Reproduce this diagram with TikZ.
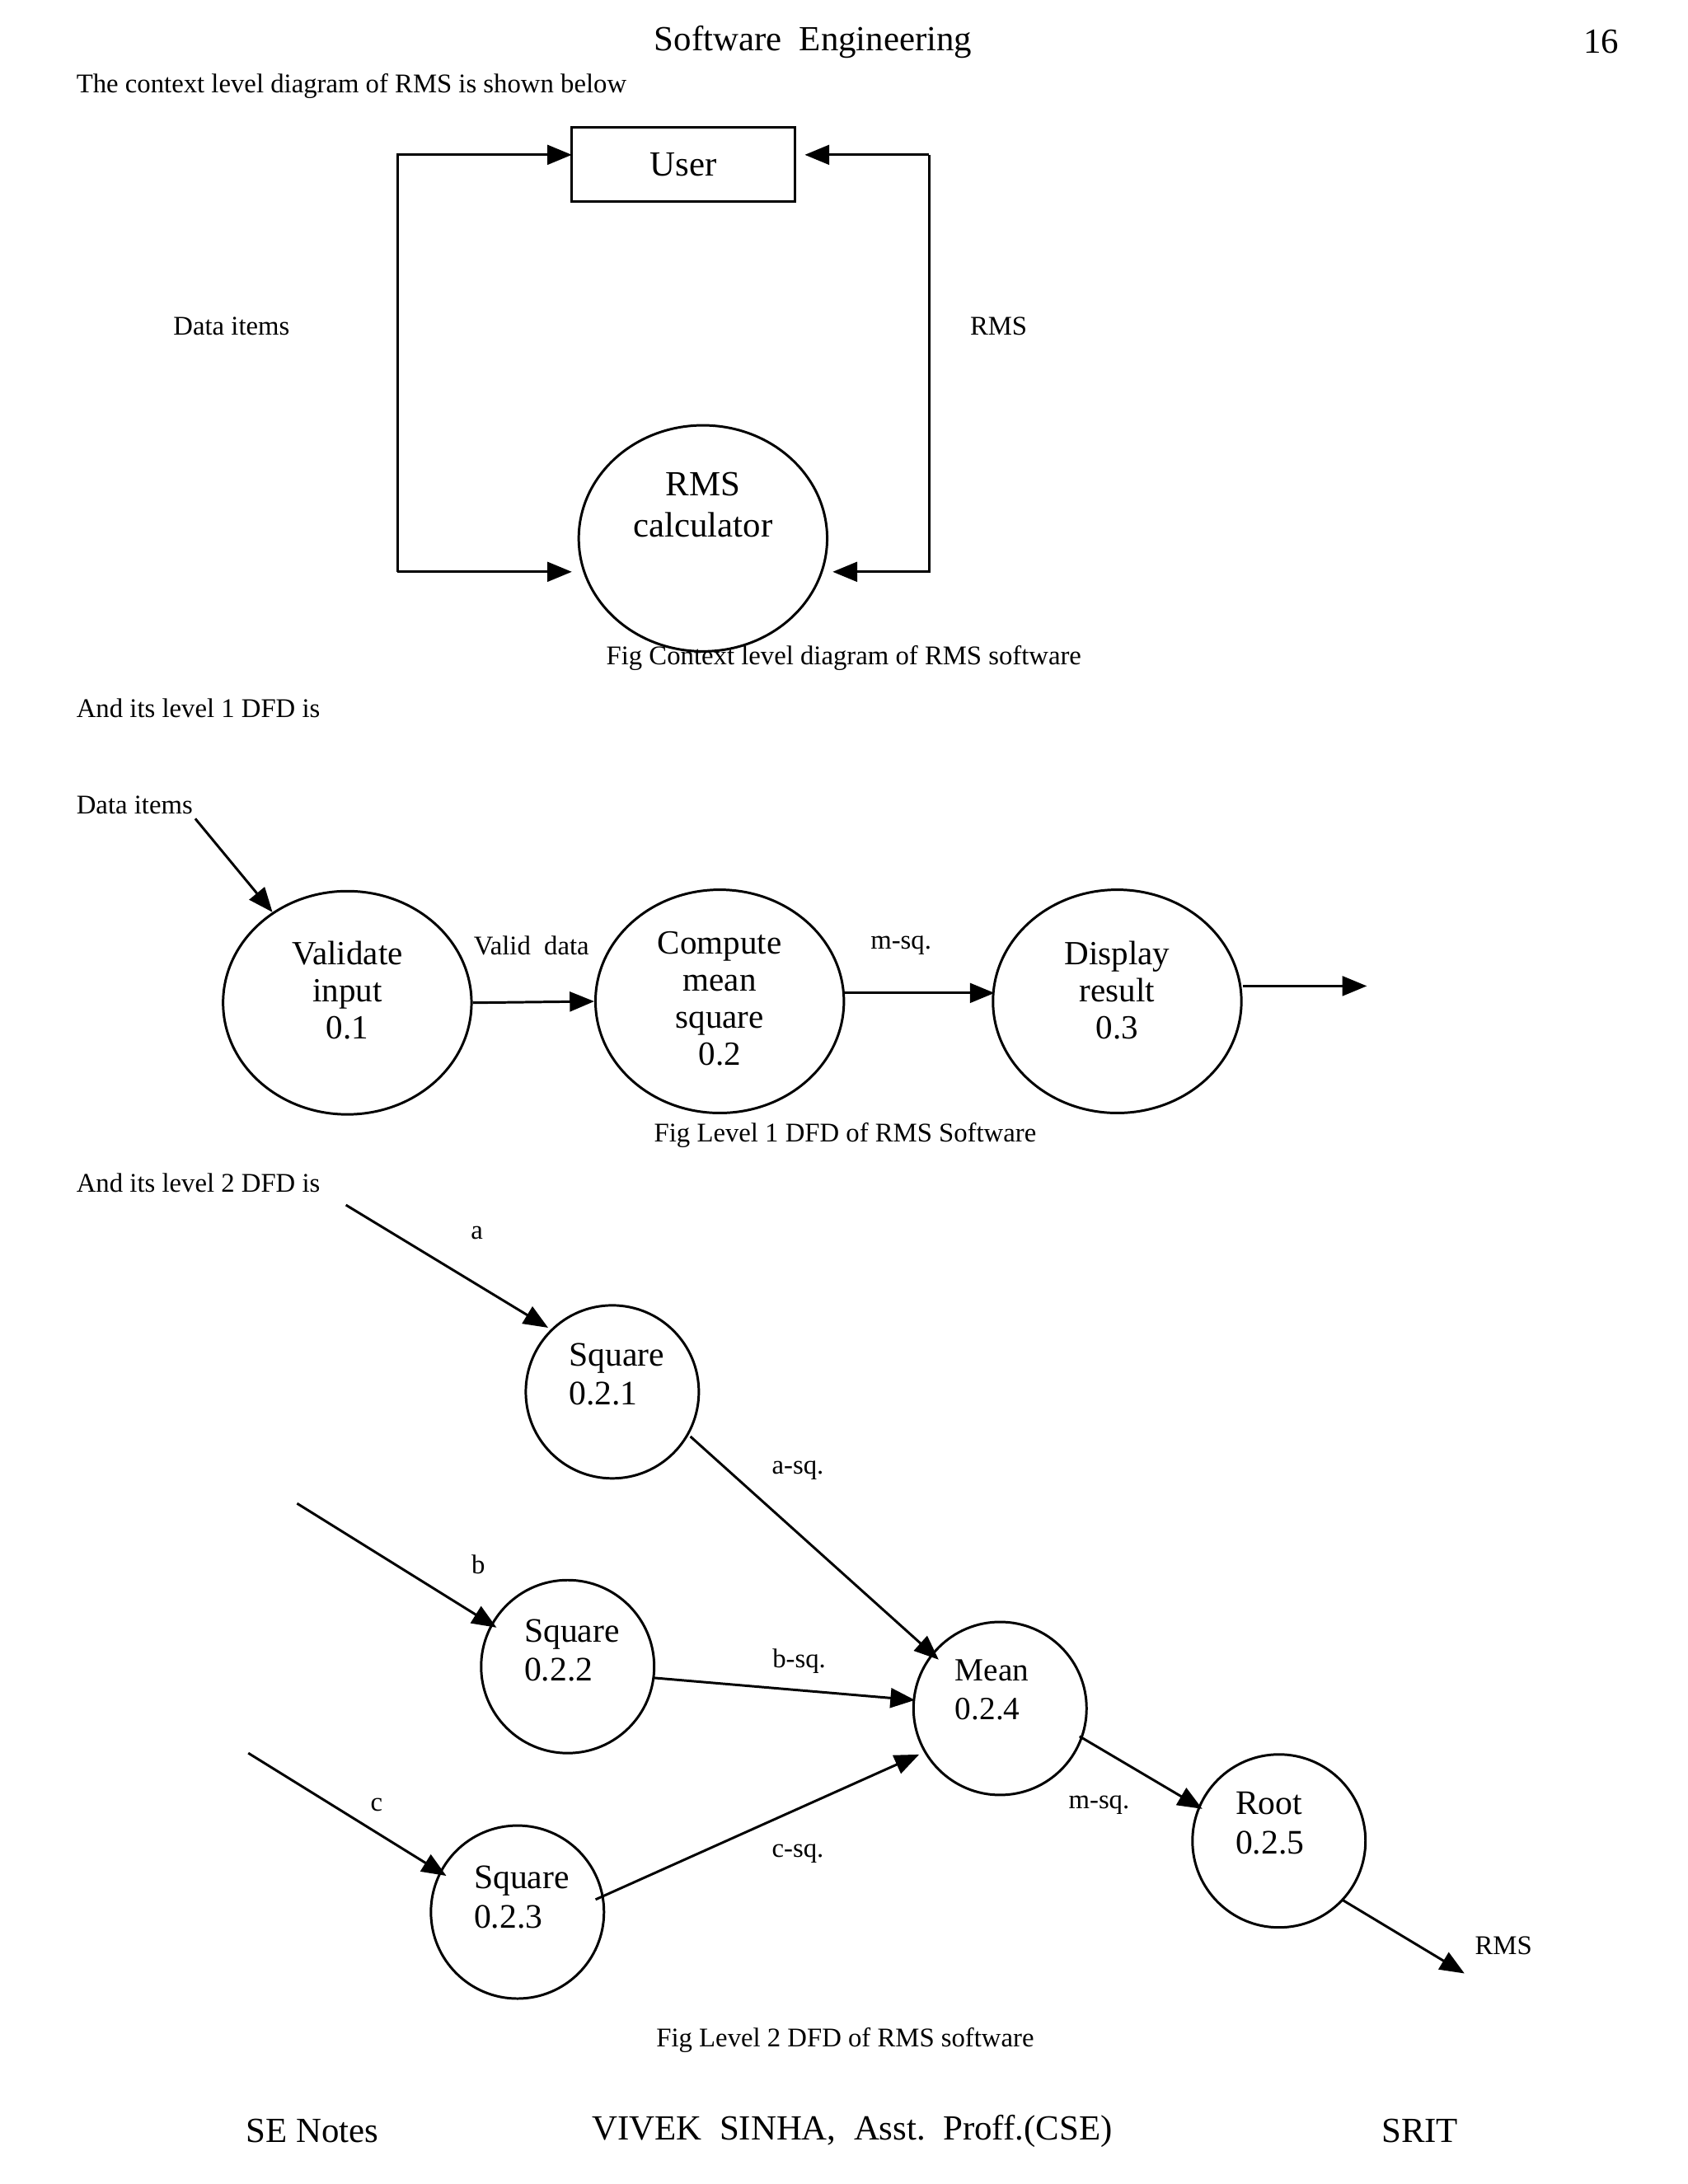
\documentclass[tikz,border=0pt]{standalone}
\usepackage{fontspec}
\setmainfont{Liberation Serif}
\usetikzlibrary{arrows.meta,shapes.geometric}
\begin{document}
\begin{tikzpicture}[x=0.01cm,y=-0.01cm,
 big/.style={font=\fontsize{7.2}{8.4}\selectfont},
 sm/.style={font=\fontsize{5.5}{6.6}\selectfont},
 circ/.style={draw,circle,minimum size=1.24cm,inner sep=0pt},
 ctext/.style={font=\fontsize{7}{8}\selectfont,align=left,inner sep=0pt},
 ell/.style={draw,ellipse,minimum width=1.78cm,minimum height=1.6cm,inner sep=0pt,font=\fontsize{6.9}{7.6}\selectfont,align=center},
 arr/.style={-{Triangle[length=5pt,width=4pt]},line width=0.5pt},
 every path/.style={line width=0.5pt}]
\useasboundingbox (0,0) rectangle (1210,1566);
\node[big] (h1) at (583,30) {Software\ \ Engineering};
\node[big] (h2) at (1148,30) {16};
\node[sm,anchor=west,inner sep=0pt] (t1) at (54,62) {The context level diagram of RMS is shown below};
\node[draw,big,minimum width=1.6cm,minimum height=0.53cm] (user) at (490,118) {User};
\node[draw,ellipse,minimum width=1.78cm,minimum height=1.62cm] (calc) at (504,386) {};
\node[big,align=center] (calct) at (504,362) {RMS\\calculator};
\coordinate (l1) at (285,111); \coordinate (l2) at (285,410);
\coordinate (r1) at (666,111); \coordinate (r2) at (666,410);
\draw[arr] (l2) -- (l1) -- (410,111);
\draw[arr] (l2) -- (410,410);
\draw[arr] (r1) -- (577,111);
\draw[arr] (r1) -- (r2) -- (597,410);
\node[sm] (d1) at (166,234) {Data items};
\node[sm] (d2) at (716,234) {RMS};
\node[sm] (c1) at (605,472) {Fig Context level diagram of RMS software};
\node[sm,anchor=west,inner sep=0pt] (t2) at (54,508) {And its level 1 DFD is};
\node[sm,anchor=west,inner sep=0pt] (d3) at (54,577) {Data items};
\node[ell] (v) at (249,719) {};
\node[ell] (cm) at (516,718) {};
\node[ell] (dr) at (801,718) {};
\node[ell,draw=none] at (249,710) {Validate\\input\\0.1};
\node[ell,draw=none] at (516,716) {Compute\\mean\\square\\0.2};
\node[ell,draw=none] at (801,710) {Display\\result\\0.3};
\coordinate (di) at (140,587);
\coordinate (out1) at (980,707);
\draw[arr] (di) -- (v);
\draw[arr] (v.east) -- (cm.west);
\draw[arr] (605,712) -- (713,712);
\draw[arr] (dr.east |- out1) -- (out1);
\node[sm] (vd) at (381,678) {Valid\ \ data};
\node[sm] (ms) at (646,678) {m-sq.};
\node[sm] (c2) at (606,814) {Fig Level 1 DFD of RMS Software};
\node[sm,anchor=west,inner sep=0pt] (t3) at (54,848) {And its level 2 DFD is};
\node[circ] (s1) at (439,998) {};
\node[circ] (s2) at (407,1195) {};
\node[circ] (s3) at (371,1371) {};
\node[circ] (mn) at (717,1225) {};
\node[circ] (rt) at (917,1320) {};
\node[ctext,anchor=north west] at (407,962) {Square\\0.2.1};
\node[ctext,anchor=north west] at (375,1160) {Square\\0.2.2};
\node[ctext,anchor=north west] at (339,1337) {Square\\0.2.3};
\node[ctext,anchor=north west,font=\fontsize{6.6}{8}\selectfont] at (684,1189) {Mean\\0.2.4};
\node[ctext,anchor=north west] at (885,1284) {Root\\0.2.5};
\coordinate (a) at (248,864); \coordinate (b) at (213,1078); \coordinate (c) at (178,1257);
\coordinate (o) at (1050,1415);
\draw[arr] (a) -- (393,952);
\draw[arr] (b) -- (356,1167);
\draw[arr] (c) -- (320,1345);
\draw[arr] (495,1030) -- (673,1190);
\draw[arr] (468,1203) -- (656,1219);
\draw[arr] (427,1362) -- (659,1258);
\draw[arr] (774,1245) -- (862,1297);
\draw[arr] (962,1362) -- (o);
\node[sm] at (342,884) {a};
\node[sm] at (343,1122) {b};
\node[sm] at (270,1294) {c};
\node[sm] at (572,1054) {a-sq.};
\node[sm] at (573,1191) {b-sq.};
\node[sm] at (572,1329) {c-sq.};
\node[sm] at (788,1294) {m-sq.};
\node[sm] at (1078,1395) {RMS};
\node[sm] at (606,1463) {Fig Level 2 DFD of RMS software};
\node[big] at (224,1528) {SE Notes};
\node[big] at (611,1528) {VIVEK\ \ SINHA,\ \ Asst.\ \ Proff.(CSE)};
\node[big] at (1018,1528) {SRIT};
\end{tikzpicture}
\end{document}
